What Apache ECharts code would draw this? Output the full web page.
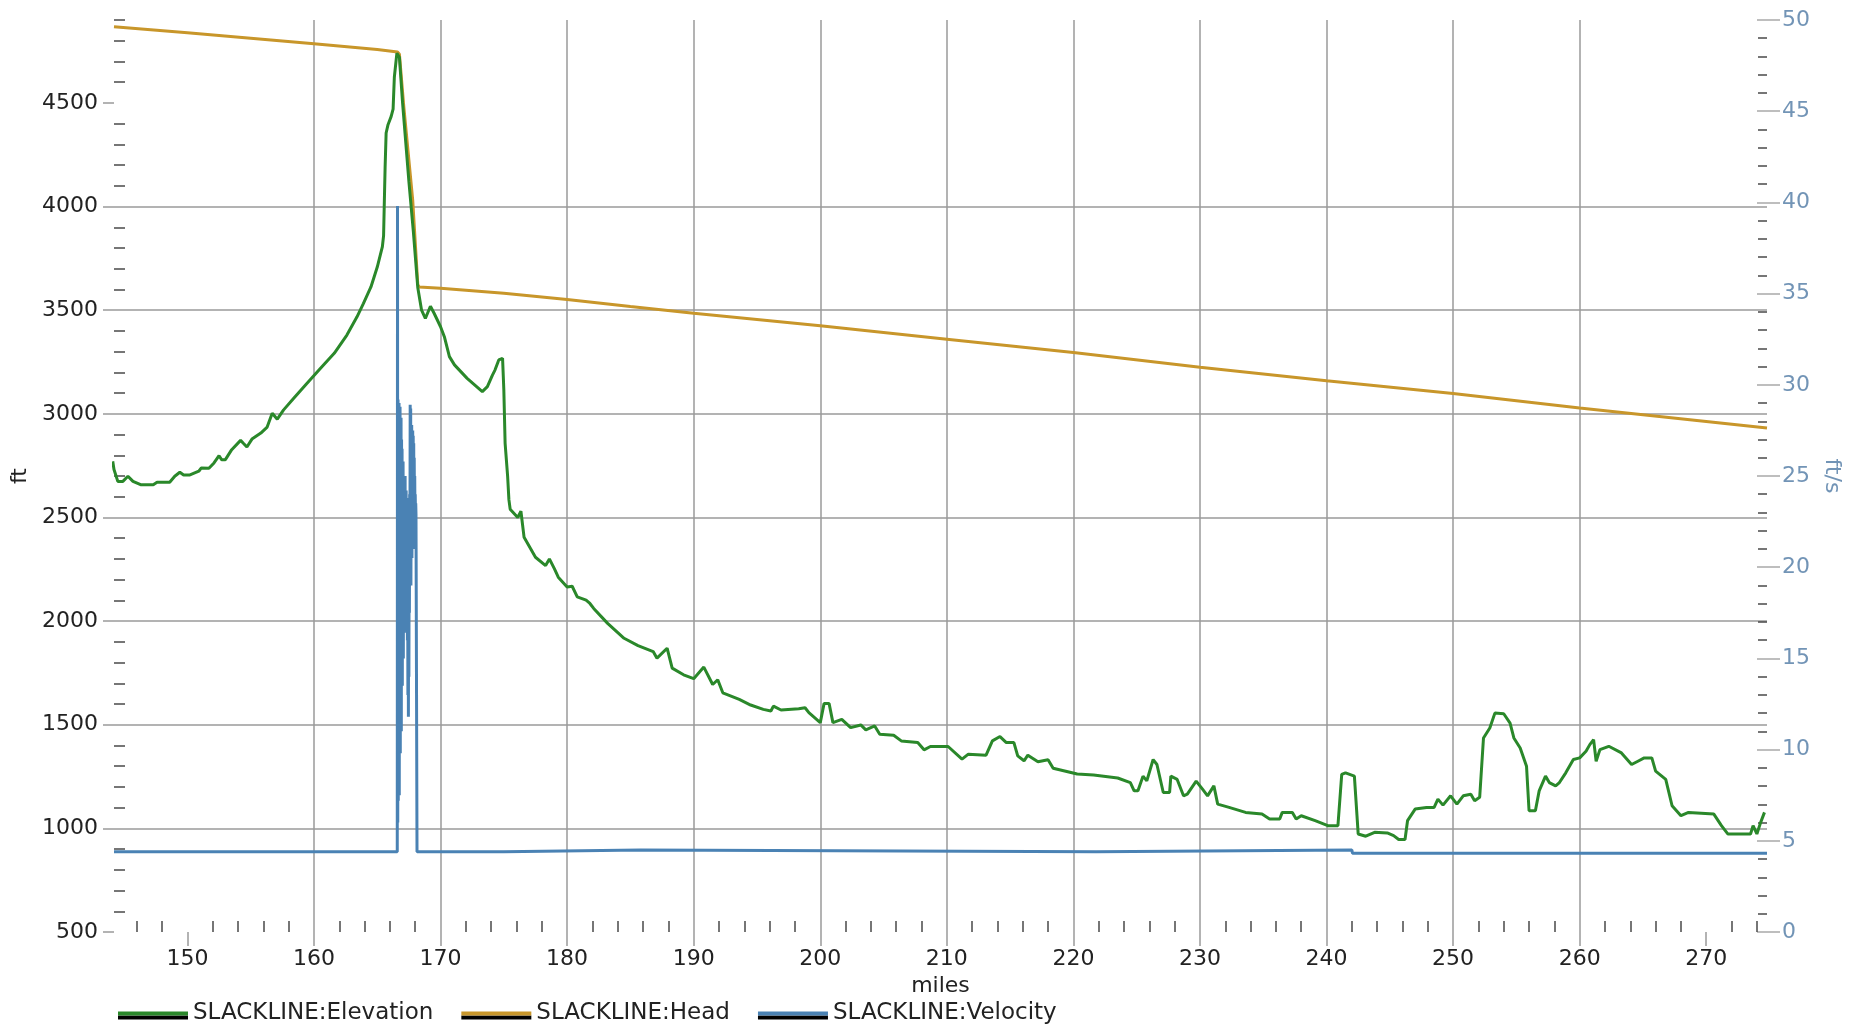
<!DOCTYPE html>
<html>
<head>
<meta charset="utf-8">
<title>SLACKLINE profile</title>
<script src="https://cdn.jsdelivr.net/npm/echarts@6/dist/echarts.min.js"></script>
<style>
  html, body { margin: 0; padding: 0; background: #fff; }
  #chart { width: 1857px; height: 1025px; }
</style>
</head>
<body>
<div id="chart"></div>
<script>
// axis limits and tick labels
const mileMin = 144.2, mileMax = 274.8;
const ftMin = 500, ftMax = 4900, ftStep = 500;
const fpsMin = 0, fpsMax = 50, fpsStep = 5;
const mileTicks = [150, 160, 170, 180, 190, 200, 210, 220, 230, 240, 250, 260, 270];
const ftTicks = [500, 1000, 1500, 2000, 2500, 3000, 3500, 4000, 4500];
const fpsTicks = [0, 5, 10, 15, 20, 25, 30, 35, 40, 45, 50];

// ground elevation along the line (ft)
const elevMiles = [144.1, 144.2, 144.5, 144.9, 145.3, 145.7, 146.3, 147.3, 147.6, 148.6, 149.0, 149.4, 149.7, 150.2,
  150.9, 151.1, 151.7, 152.1, 152.5, 152.7, 153.0, 153.5, 154.2, 154.4, 154.7, 155.1, 155.8, 156.3, 156.7, 156.8,
  157.1, 157.6, 158.4, 159.4, 160.5, 161.6, 162.6, 163.4, 163.9, 164.5, 165.0, 165.4, 165.5, 165.55, 165.62, 165.7,
  165.85, 166.1, 166.25, 166.35, 166.55, 166.65, 166.75, 167.0, 167.5, 167.85, 168.2, 168.5, 168.8, 169.2, 169.5,
  170.0, 170.3, 170.7, 171.1, 172.1, 173.3, 173.7, 174.1, 174.3, 174.6, 174.9, 175.0, 175.1, 175.3, 175.4, 175.5,
  176.1, 176.35, 176.6, 177.5, 178.3, 178.6, 179.0, 179.3, 180.0, 180.4, 180.8, 181.5, 181.8, 182.1, 183.2, 184.5,
  185.6, 186.8, 187.1, 187.9, 188.3, 189.2, 190.0, 190.8, 191.5, 191.9, 192.3, 193.6, 194.5, 195.5, 196.1, 196.3,
  196.9, 198.3, 198.8, 199.1, 200.0, 200.3, 200.7, 201.0, 201.7, 202.4, 203.2, 203.6, 204.3, 204.7, 205.8, 206.4,
  207.7, 208.2, 208.7, 210.1, 211.2, 211.7, 213.1, 213.6, 214.2, 214.7, 215.3, 215.6, 216.1, 216.4, 217.2, 218.0,
  218.4, 220.3, 221.6, 223.5, 224.5, 224.8, 225.1, 225.5, 225.8, 226.3, 226.6, 227.1, 227.6, 227.7, 228.2, 228.7,
  229.0, 229.7, 230.2, 230.6, 231.1, 231.4, 232.3, 233.6, 234.9, 235.5, 236.3, 236.5, 237.3, 237.6, 238.0, 239.1,
  240.1, 240.9, 241.2, 241.5, 242.2, 242.5, 243.1, 243.8, 244.8, 245.3, 245.7, 246.2, 246.4, 247.0, 247.9, 248.5,
  248.8, 249.2, 249.8, 250.3, 250.8, 251.4, 251.7, 252.1, 252.4, 252.9, 253.3, 254.0, 254.5, 254.8, 255.3, 255.8,
  256.0, 256.5, 256.8, 257.3, 257.6, 258.1, 258.4, 258.9, 259.5, 260.0, 260.5, 260.8, 261.1, 261.3, 261.6, 262.3,
  263.3, 264.1, 264.6, 265.1, 265.7, 266.0, 266.8, 267.3, 268.0, 268.6, 270.6, 271.2, 271.7, 273.5, 273.7, 274.0,
  274.3, 274.6];
const elevFt = [2771, 2731, 2674, 2674, 2699, 2674, 2658, 2658, 2670, 2670, 2699, 2718, 2705, 2705,
  2723, 2739, 2737, 2763, 2798, 2779, 2779, 2827, 2872, 2859, 2840, 2878, 2907, 2936, 3003, 3011,
  2974, 3019, 3075, 3144, 3219, 3292, 3380, 3468, 3532, 3612, 3708, 3805, 3860, 4000, 4190, 4355,
  4395, 4435, 4470, 4625, 4740, 4746, 4720, 4500, 4120, 3880, 3610, 3500, 3460, 3519, 3484,
  3420, 3372, 3276, 3236, 3171, 3107, 3131, 3187, 3211, 3260, 3268, 3115, 2859, 2698, 2586, 2540,
  2500, 2530, 2404, 2308, 2268, 2300, 2252, 2212, 2165, 2168, 2117, 2101, 2085, 2061, 1989, 1917,
  1882, 1853, 1821, 1869, 1773, 1741, 1722, 1778, 1694, 1717, 1654, 1622, 1595, 1574, 1566, 1590,
  1571, 1577, 1582, 1558, 1510, 1602, 1602, 1510, 1526, 1486, 1499, 1475, 1494, 1454, 1449, 1422,
  1414, 1379, 1395, 1395, 1334, 1358, 1353, 1422, 1443, 1414, 1414, 1350, 1326, 1353, 1321, 1331,
  1290, 1262, 1257, 1243, 1221, 1181, 1181, 1252, 1229, 1332, 1308, 1173, 1173, 1252, 1236, 1157,
  1165, 1228, 1189, 1157, 1205, 1117, 1101, 1077, 1069, 1045, 1045, 1077, 1077, 1045, 1061, 1037,
  1013, 1013, 1260, 1268, 1252, 973, 962, 981, 978, 965, 946, 946, 1037, 1093, 1101, 1101,
  1141, 1112, 1157, 1117, 1157, 1165, 1133, 1150, 1436, 1484, 1556, 1553, 1508, 1436, 1388, 1300,
  1085, 1085, 1181, 1252, 1221, 1205, 1221, 1268, 1332, 1340, 1372, 1404, 1428, 1324, 1380, 1396,
  1364, 1308, 1324, 1340, 1340, 1276, 1236, 1109, 1061, 1077, 1069, 1013, 973, 973, 1013, 973,
  1029, 1077];

// hydraulic head (ft)
const headMiles = [144.2, 150.0, 155.0, 160.0, 165.0, 166.6, 166.75, 167.1, 167.8, 168.2, 168.3, 170.0, 175.0, 180.0,
  185.0, 190.0, 195.0, 200.0, 210.0, 220.0, 230.0, 240.0, 250.0, 260.0, 270.0, 274.8];
const headFt = [4868, 4838, 4812, 4785, 4758, 4746, 4735, 4480, 4031, 3625, 3612, 3606, 3582, 3552,
  3518, 3485, 3455, 3425, 3360, 3296, 3225, 3160, 3098, 3028, 2963, 2932];

// flow velocity (ft/s)
const velMiles = [144.2, 166.58, 166.6, 166.62, 166.64, 166.66, 166.68, 166.7, 166.72, 166.74, 166.76, 166.78, 166.8,
  166.82, 166.84, 166.86, 166.88, 166.9, 166.92, 166.94, 166.96, 166.98, 167.0, 167.02, 167.04, 167.06, 167.08,
  167.1, 167.12, 167.14, 167.16, 167.18, 167.2, 167.22, 167.24, 167.26, 167.28, 167.3, 167.32, 167.34, 167.36,
  167.38, 167.4, 167.42, 167.44, 167.46, 167.48, 167.5, 167.52, 167.54, 167.56, 167.58, 167.6, 167.62, 167.64,
  167.66, 167.68, 167.7, 167.72, 167.74, 167.76, 167.78, 167.8, 167.82, 167.84, 167.86, 167.88, 167.9, 167.92,
  167.94, 167.96, 167.98, 168.0, 168.02, 168.04, 168.06, 168.08, 168.1, 168.12, 168.14, 175.0, 175.05, 185.8,
  185.85, 221.8, 221.85, 242.0, 242.05, 274.8];
const velFps = [4.4, 4.4, 39.8, 6.0, 29.2, 7.2, 28.9, 9.0, 29.0, 7.5, 28.6, 12.0, 28.8,
  9.8, 27.9, 14.5, 28.2, 11.0, 27.0, 16.0, 26.5, 13.5, 25.0, 17.0, 25.8, 15.0, 24.5,
  18.0, 23.5, 16.4, 24.8, 19.0, 25.0, 16.5, 22.8, 18.5, 24.2, 17.0, 22.5, 19.5, 23.8,
  16.0, 21.5, 13.0, 20.0, 11.8, 18.5, 14.0, 21.0, 17.5, 24.0, 20.0, 28.9, 20.5, 28.7,
  19.0, 26.0, 21.0, 27.8, 20.5, 26.5, 22.0, 27.5, 22.5, 27.2, 21.0, 26.8, 22.9, 26.0,
  22.9, 25.0, 22.9, 24.0, 22.9, 23.5, 22.9, 23.0, 22.9, 22.9, 4.4, 4.4, 4.5, 4.5,
  4.4, 4.4, 4.5, 4.5, 4.32, 4.32];

const FONT = 'DejaVu Sans';
const GRID = '#9a9a9a';
const TICK = '#4a4a4a';
const GREEN = '#2a882a', GOLD = '#c8962a', BLUE = '#4a82b4', BLUE_TEXT = '#7294b6';
const plain = v => String(v);

function pairs(xs, ys) {
  return xs.map((x, i) => [x, ys[i]]);
}

const chart = echarts.init(document.getElementById('chart'));

chart.setOption({
  animation: false,
  backgroundColor: '#fff',
  textStyle: { fontFamily: FONT },
  grid: { left: 114, right: 90, top: 20, bottom: 93 },
  legend: {
    left: 113,
    top: 997,
    itemWidth: 70,
    itemHeight: 4,
    itemGap: 28,
    icon: 'rect',
    textStyle: { fontFamily: FONT, fontSize: 23, color: '#222' },
    itemStyle: { shadowColor: '#000', shadowOffsetY: 4, shadowBlur: 0 },
    data: ['SLACKLINE:Elevation', 'SLACKLINE:Head', 'SLACKLINE:Velocity']
  },
  xAxis: {
    type: 'value',
    min: mileMin,
    max: mileMax,
    splitNumber: 13,
    minInterval: 10,
    maxInterval: 10,
    name: 'miles',
    nameLocation: 'middle',
    nameGap: 40,
    nameTextStyle: { fontFamily: FONT, fontSize: 22, color: '#222' },
    axisLine: { show: false },
    axisTick: { show: true, length: 14, customValues: mileTicks, lineStyle: { color: GRID, width: 1.5 } },
    minorTick: { show: true, splitNumber: 5, length: -11, lineStyle: { color: TICK, width: 1.5 } },
    axisLabel: { fontFamily: FONT, fontSize: 22, color: '#222', margin: 16, customValues: mileTicks, formatter: plain },
    splitLine: { show: true, showMinLine: false, showMaxLine: false, lineStyle: { color: GRID, width: 1.5 } }
  },
  yAxis: [
    {
      type: 'value',
      min: ftMin,
      max: ftMax,
      interval: ftStep,
      name: 'ft',
      nameLocation: 'middle',
      nameGap: 81,
      nameTextStyle: { fontFamily: FONT, fontSize: 22, color: '#222' },
      axisLine: { show: false },
      axisTick: { show: true, length: 11, customValues: ftTicks, lineStyle: { color: GRID, width: 1.5 } },
      minorTick: { show: true, splitNumber: 5, length: -11, lineStyle: { color: TICK, width: 1.5 } },
      axisLabel: { fontFamily: FONT, fontSize: 22, color: '#222', margin: 16, customValues: ftTicks, formatter: plain },
      splitLine: { show: true, showMinLine: false, showMaxLine: false, lineStyle: { color: GRID, width: 1.5 } }
    },
    {
      type: 'value',
      position: 'right',
      min: fpsMin,
      max: fpsMax,
      interval: fpsStep,
      name: 'ft/s',
      nameLocation: 'middle',
      nameRotate: -90,
      nameGap: 40,
      nameTextStyle: { fontFamily: FONT, fontSize: 22, color: BLUE_TEXT },
      axisLine: { show: false },
      axisTick: { show: true, length: 13, customValues: fpsTicks, lineStyle: { color: '#a9a9a9', width: 1.5 } },
      minorTick: { show: true, splitNumber: 5, length: -9, lineStyle: { color: TICK, width: 1.5 } },
      axisLabel: { fontFamily: FONT, fontSize: 22, color: BLUE_TEXT, margin: 15, customValues: fpsTicks, formatter: plain },
      splitLine: { show: false }
    },
    {
      // inner half of the right-hand major ticks
      type: 'value',
      position: 'right',
      min: fpsMin,
      max: fpsMax,
      interval: fpsStep,
      axisLine: { show: false },
      axisTick: { show: true, inside: true, length: 10, customValues: fpsTicks, lineStyle: { color: '#a9a9a9', width: 1.5 } },
      axisLabel: { show: false },
      splitLine: { show: false }
    },
    {
      // short inner tick at the top of the ft axis
      type: 'value',
      position: 'left',
      min: ftMin,
      max: ftMax,
      interval: ftStep,
      axisLine: { show: false },
      axisTick: { show: true, inside: true, length: 11, customValues: [ftMax], lineStyle: { color: TICK, width: 1.5 } },
      axisLabel: { show: false },
      splitLine: { show: false }
    }
  ],
  series: [
    {
      name: 'SLACKLINE:Elevation',
      type: 'line',
      yAxisIndex: 0,
      showSymbol: false,
      color: GREEN,
      lineStyle: { width: 3, color: GREEN },
      data: pairs(elevMiles, elevFt),
      z: 3
    },
    {
      name: 'SLACKLINE:Head',
      type: 'line',
      yAxisIndex: 0,
      showSymbol: false,
      color: GOLD,
      lineStyle: { width: 3, color: GOLD },
      data: pairs(headMiles, headFt),
      z: 2
    },
    {
      name: 'SLACKLINE:Velocity',
      type: 'line',
      yAxisIndex: 1,
      showSymbol: false,
      color: BLUE,
      lineStyle: { width: 3, color: BLUE },
      data: pairs(velMiles, velFps),
      z: 4
    }
  ]
});
</script>
</body>
</html>
